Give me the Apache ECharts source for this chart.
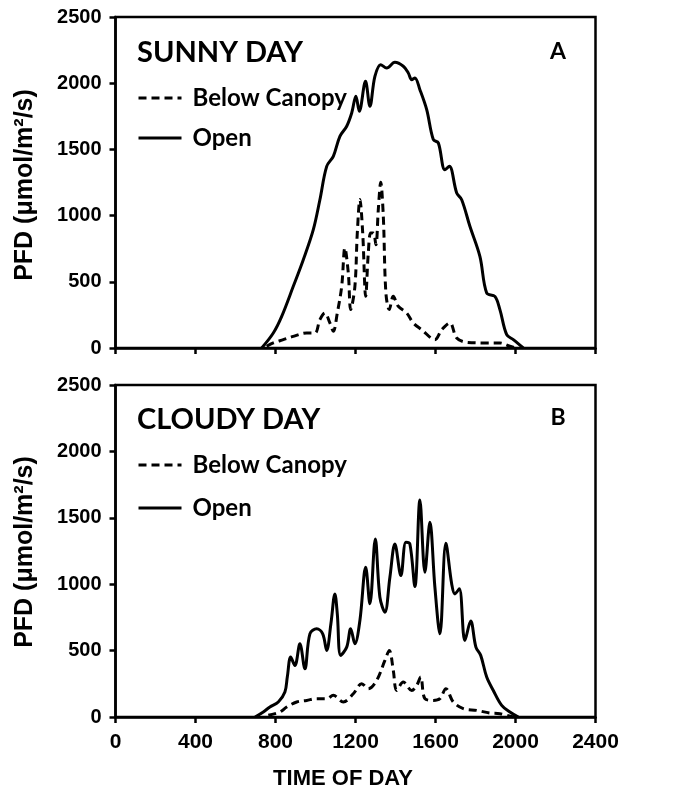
<!DOCTYPE html>
<html><head><meta charset="utf-8">
<script src="https://cdn.jsdelivr.net/npm/echarts@6/dist/echarts.min.js"></script>
<style>html,body{margin:0;padding:0;background:#fff}#c{width:678px;height:795px}</style>
</head><body><div id="c"></div>
<script>
// ---- data ----
const xMin = 0, xMax = 2400, xStep = 400;
const yMin = 0, yMax = 2500, yStep = 500;
const seriesNames = ['Below Canopy', 'Open'];
const panelTitles = ['SUNNY DAY', 'CLOUDY DAY'];
const panelLetters = ['A', 'B'];
const xAxisTitle = 'TIME OF DAY';
const yAxisTitle = 'PFD (\u03bcmol/m\u00b2/s)';

// Panel A: sunny day
const sunnyOpenTime = [731,789,831,889,939,989,1022,1056,1089,1122,1156,1181,1202,1219,1250,1272,1297,1326,1356,1397,1439,1464,1481,1497,1522,1556,1589,1614,1647,1669,1706,1731,1772,1822,1856,1897,1922,1956,1989,2039];
const sunnyOpenPFD  = [0,113,239,466,667,894,1120,1372,1448,1599,1675,1775,1901,1788,2014,1826,2052,2140,2115,2158,2128,2077,2027,2040,1951,1800,1574,1549,1347,1372,1171,1120,919,692,415,390,290,101,63,0];
const sunnyBelowTime = [756,789,839,889,956,997,1022,1047,1072,1089,1109,1131,1147,1164,1176,1197,1209,1222,1236,1251,1264,1276,1289,1302,1314,1326,1339,1352,1369,1389,1414,1456,1489,1531,1597,1631,1672,1706,1756,1856,1922,1972,2006];
const sunnyBelowPFD  = [13,38,63,88,113,113,214,264,189,126,264,466,755,567,290,466,869,1121,869,390,718,869,869,780,1045,1251,995,415,290,390,315,264,189,138,63,138,189,76,43,38,38,13,0];

// Panel B: cloudy day
const cloudyOpenTime = [698,739,772,814,847,859,876,897,922,947,972,1006,1036,1056,1077,1097,1109,1126,1156,1176,1197,1222,1251,1272,1299,1322,1347,1372,1397,1427,1452,1472,1497,1522,1547,1572,1597,1622,1652,1681,1697,1719,1747,1776,1802,1826,1856,1889,1931,1972,2014];
const cloudyOpenPFD  = [0,38,75,113,188,301,451,388,551,363,626,664,626,501,702,927,777,464,526,664,551,727,1128,852,1341,902,789,1053,1303,1065,1316,1303,982,1634,1090,1466,977,626,1308,1002,927,965,576,722,526,464,301,200,88,38,0];
const cloudyBelowTime = [764,822,856,906,956,1006,1056,1089,1139,1189,1231,1264,1306,1347,1369,1389,1406,1439,1481,1506,1526,1547,1589,1622,1652,1689,1739,1806,1872,1922,1989];
const cloudyBelowPFD  = [13,38,75,113,125,138,138,163,113,175,251,213,276,426,501,351,200,263,200,238,301,138,125,138,213,113,63,50,30,25,0];

// ---- build ----
function zip(xs, ys) { return xs.map((x, i) => [x, ys[i]]); }

const grids = [
  { left: 115.5, top: 17, width: 480, height: 331 },
  { left: 115.5, top: 385, width: 480, height: 332 }
];

const tickFont = { fontFamily: 'Liberation Sans, Arial, sans-serif', fontWeight: 'bold', color: '#000', formatter: v => String(v) };
const axisLine = { show: true, onZero: false, lineStyle: { color: '#000', width: 2.5 } };
const axisTick = { show: true, inside: false, length: 6, lineStyle: { color: '#000', width: 2.5 } };

const xAxes = grids.map((g, i) => ({
  type: 'value', gridIndex: i, min: xMin, max: xMax, interval: xStep,
  axisLine, axisTick, splitLine: { show: false },
  axisLabel: Object.assign({ show: i === 1, fontSize: 21, margin: 15 }, tickFont)
}));
const yAxes = grids.map((g, i) => ({
  type: 'value', gridIndex: i, min: yMin, max: yMax, interval: yStep,
  axisLine, axisTick, splitLine: { show: false },
  axisLabel: Object.assign({ fontSize: 20, margin: 14 }, tickFont)
}));

const dashStyle = { color: '#000', width: 3, type: [8, 5] };
const solidStyle = { color: '#000', width: 3, type: 'solid' };

const panelData = [
  [zip(sunnyBelowTime, sunnyBelowPFD), zip(sunnyOpenTime, sunnyOpenPFD)],
  [zip(cloudyBelowTime, cloudyBelowPFD), zip(cloudyOpenTime, cloudyOpenPFD)]
];

const series = [];
panelData.forEach((pd, i) => {
  series.push({ name: seriesNames[0], type: 'line', xAxisIndex: i, yAxisIndex: i, data: pd[0],
    showSymbol: false, symbol: 'none', smooth: 0.35, lineStyle: dashStyle, itemStyle: { color: '#000' }, z: 3 });
  series.push({ name: seriesNames[1], type: 'line', xAxisIndex: i, yAxisIndex: i, data: pd[1],
    showSymbol: false, symbol: 'none', smooth: 0.35, lineStyle: solidStyle, itemStyle: { color: '#000' }, z: 4 });
});

const legendText = { fontFamily: 'Lato', fontWeight: 'bold', fontSize: 24, color: '#000', lineHeight: 24, padding: [0, 0, 0, 6] };
const legends = [
  { left: 132, top: 81, orient: 'vertical', itemGap: 16 },
  { left: 132, top: 448, orient: 'vertical', itemGap: 19 }
].map(l => Object.assign({
  data: [
    { name: seriesNames[0], lineStyle: { width: 3, color: '#000', type: [8, 5] }, textStyle: legendText },
    { name: seriesNames[1], lineStyle: { width: 3, color: '#000', type: 'solid' }, textStyle: legendText }
  ],
  itemWidth: 43, itemHeight: 14, selectedMode: false,
  textStyle: legendText, itemStyle: { opacity: 0 }
}, l));

const headFont = 'bold 29px Lato, "Open Sans", sans-serif';
const yTitleFont = 'bold 25px "Liberation Sans", Arial, sans-serif';
const graphic = [
  { type: 'text', x: 137, y: 53, style: { text: panelTitles[0], font: headFont, fill: '#000', align: 'left', verticalAlign: 'middle' } },
  { type: 'text', x: 137, y: 420, style: { text: panelTitles[1], font: headFont, fill: '#000', align: 'left', verticalAlign: 'middle' } },
  { type: 'text', x: 558, y: 52, style: { text: panelLetters[0], font: 'bold 23px Lato, sans-serif', fill: '#000', align: 'center', verticalAlign: 'middle' } },
  { type: 'text', x: 558, y: 418, style: { text: panelLetters[1], font: 'bold 23px Lato, sans-serif', fill: '#000', align: 'center', verticalAlign: 'middle' } },
  { type: 'text', x: 25, y: 185, rotation: Math.PI / 2, style: { text: yAxisTitle, font: yTitleFont, fill: '#000', align: 'center', verticalAlign: 'middle' } },
  { type: 'text', x: 25, y: 552, rotation: Math.PI / 2, style: { text: yAxisTitle, font: yTitleFont, fill: '#000', align: 'center', verticalAlign: 'middle' } },
  { type: 'text', x: 343, y: 779, style: { text: xAxisTitle, font: 'bold 22px "Liberation Sans", Arial, sans-serif', fill: '#000', align: 'center', verticalAlign: 'middle' } }
];

const chart = echarts.init(document.getElementById('c'), null, { renderer: 'canvas' });
chart.setOption({
  backgroundColor: '#fff',
  animation: false,
  grid: grids.map(g => Object.assign({ show: true, borderColor: '#000', borderWidth: 2.5, backgroundColor: 'transparent' }, g)),
  xAxis: xAxes,
  yAxis: yAxes,
  legend: legends,
  series,
  graphic
});
</script></body></html>
